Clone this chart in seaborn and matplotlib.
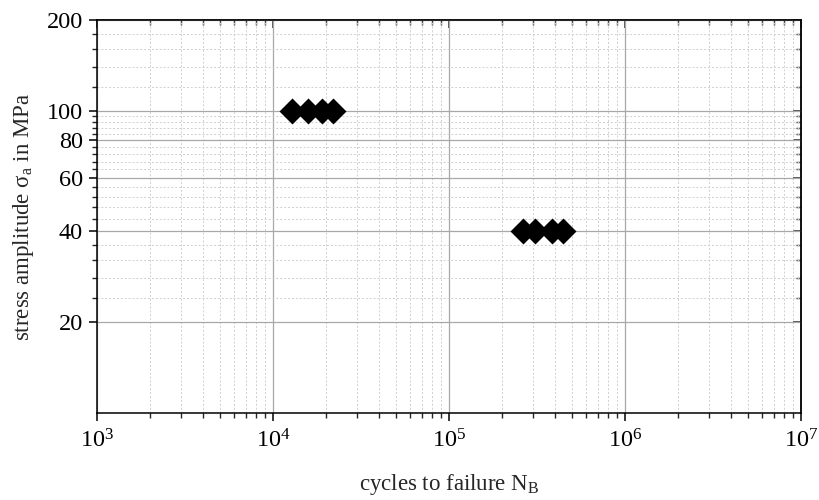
import numpy as np
import pandas as pd
import matplotlib
matplotlib.use("Agg")
import matplotlib.pyplot as plt
import seaborn as sns
from matplotlib.ticker import FixedLocator, FixedFormatter, NullFormatter, LogLocator

# data
cycles_100 = [12800, 15900, 18900, 22000]
cycles_40 = [264000, 308000, 383000, 446000]
stress_levels = [100, 40]
y_major = [20, 40, 60, 80, 100, 200]
y_minor = [24, 28, 32, 36, 44, 48, 52, 56, 64, 68, 72, 76, 84, 88, 92, 96, 120, 140, 160, 180]

df = pd.DataFrame({
    "N": cycles_100 + cycles_40,
    "S": [stress_levels[0]] * len(cycles_100) + [stress_levels[1]] * len(cycles_40),
})

sns.set_style("ticks")
plt.rcParams["font.family"] = ["Liberation Serif", "DejaVu Serif"]
plt.rcParams["mathtext.fontset"] = "custom"
plt.rcParams["mathtext.rm"] = "Liberation Serif"
plt.rcParams["mathtext.it"] = "Liberation Serif:italic"

fig = plt.figure(figsize=(8.19, 5.0), dpi=100)
ax = fig.add_axes([97/819, 1-413/500, (801-97)/819, (413-20)/500])

ax.set_xscale("log")
ax.set_yscale("log")
ax.set_xlim(1e3, 1e7)
ax.set_ylim(10, 200)

sns.scatterplot(data=df, x="N", y="S", marker="D", s=175, color="black",
                linewidth=0, ax=ax, zorder=5, legend=False)

ax.xaxis.set_major_locator(LogLocator(base=10, numticks=10))
ax.xaxis.set_minor_locator(LogLocator(base=10, subs=np.arange(2, 10), numticks=20))
ax.xaxis.set_minor_formatter(NullFormatter())
ax.yaxis.set_major_locator(FixedLocator(y_major))
ax.yaxis.set_minor_locator(FixedLocator(y_minor))
ax.yaxis.set_major_formatter(FixedFormatter([str(v) for v in y_major]))
ax.yaxis.set_minor_formatter(NullFormatter())

ax.grid(which="major", color="#a8a8a8", linewidth=0.9, linestyle="-")
ax.grid(which="minor", color="#cfcfcf", linewidth=0.7, linestyle=(0, (2, 2)))
ax.set_axisbelow(True)

for sp in ax.spines.values():
    sp.set_visible(True)
    sp.set_linewidth(1.1)
    sp.set_color("black")

ax.tick_params(which="major", direction="out", length=6, width=1.1, labelsize=17.5,
               colors="black", left=True, bottom=True, right=False, top=False, pad=4)
ax.tick_params(which="minor", direction="out", length=3.5, width=1.0,
               left=True, bottom=True, right=False, top=False)
ax.tick_params(axis="x", which="major", pad=6)

axr = ax.secondary_yaxis("right")
axr.yaxis.set_major_locator(FixedLocator(y_major))
axr.yaxis.set_minor_locator(FixedLocator(y_minor))
axr.yaxis.set_major_formatter(NullFormatter())
axr.yaxis.set_minor_formatter(NullFormatter())
axr.tick_params(which="major", direction="in", length=6, width=1.1)
axr.tick_params(which="minor", direction="in", length=3.5, width=1.0)
axr.spines["right"].set_linewidth(1.1)

axt = ax.secondary_xaxis("top")
axt.xaxis.set_major_locator(LogLocator(base=10, numticks=10))
axt.xaxis.set_minor_locator(LogLocator(base=10, subs=np.arange(2, 10), numticks=20))
axt.xaxis.set_major_formatter(NullFormatter())
axt.xaxis.set_minor_formatter(NullFormatter())
axt.tick_params(which="major", direction="in", length=6, width=1.1)
axt.tick_params(which="minor", direction="in", length=3.5, width=1.0)
axt.spines["top"].set_linewidth(1.1)

ax.set_xlabel(r"cycles to failure N$_\mathrm{B}$", fontsize=16.5, labelpad=14)
ax.set_ylabel(r"stress amplitude σ$_\mathrm{a}$ in MPa", fontsize=16.5, labelpad=8)

fig.savefig("out.png", dpi=100)
